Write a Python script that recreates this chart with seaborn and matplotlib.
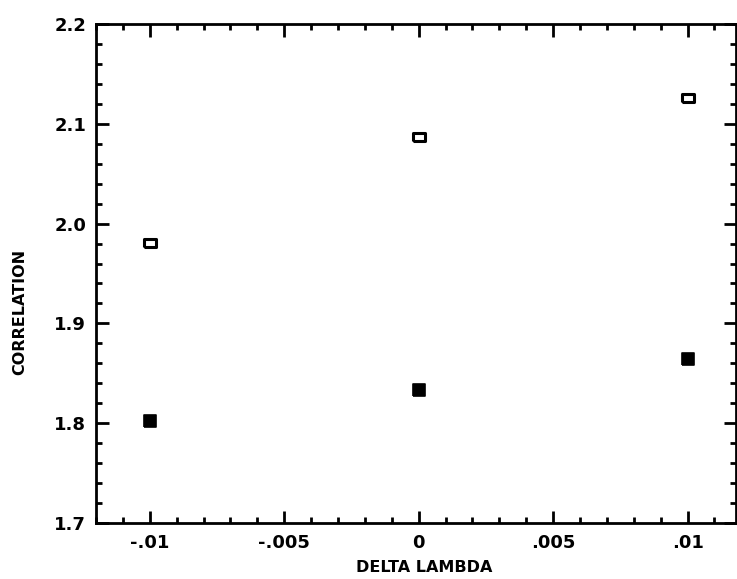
import matplotlib
matplotlib.use("Agg")
import matplotlib.pyplot as plt
import seaborn as sns
import pandas as pd
from matplotlib.ticker import MultipleLocator

# ---- data ----
delta_lambda = [-0.01, 0.0, 0.01]
corr_open = [1.981, 2.087, 2.126]
corr_filled = [1.802, 1.833, 1.864]

x_ticks = [-0.01, -0.005, 0.0, 0.005, 0.01]
x_tick_labels = ["-.01", "-.005", "0", ".005", ".01"]
y_ticks = [1.7, 1.8, 1.9, 2.0, 2.1, 2.2]
y_tick_labels = ["1.7", "1.8", "1.9", "2.0", "2.1", "2.2"]

df_open = pd.DataFrame({"x": delta_lambda, "y": corr_open})
df_filled = pd.DataFrame({"x": delta_lambda, "y": corr_filled})

sns.set_style("ticks")
plt.rcParams["font.family"] = ["DejaVu Sans"]

fig = plt.figure(figsize=(7.37, 5.79), dpi=100)
ax = fig.add_axes([96 / 737, (579 - 523) / 579, 640 / 737, 499 / 579])

rect_open = [(-1, -0.7), (1, -0.7), (1, 0.7), (-1, 0.7), (-1, -0.7)]
rect_filled = [(-1, -0.9), (1, -0.9), (1, 0.9), (-1, 0.9), (-1, -0.9)]

sns.scatterplot(data=df_open, x="x", y="y", ax=ax, marker=rect_open, s=80,
                facecolor="white", edgecolor="black", linewidth=2.2, zorder=3)
sns.scatterplot(data=df_filled, x="x", y="y", ax=ax, marker=rect_filled, s=85,
                color="black", edgecolor="black", linewidth=1.2, zorder=3)

ax.set_xlim(-0.012, 0.0118)
ax.set_ylim(1.7, 2.2)

ax.set_xticks(x_ticks)
ax.set_xticklabels(x_tick_labels, fontweight="bold")
ax.xaxis.set_minor_locator(MultipleLocator(0.001))
ax.set_yticks(y_ticks)
ax.set_yticklabels(y_tick_labels, fontweight="bold")
ax.yaxis.set_minor_locator(MultipleLocator(0.02))

ax.tick_params(which="both", direction="in", top=True, right=True,
               width=2.0, color="black", labelsize=13, labelcolor="black")
ax.tick_params(which="major", length=9)
ax.tick_params(which="minor", length=4.5)
ax.tick_params(axis="y", which="major", pad=7)
ax.tick_params(axis="x", which="major", pad=8)

for sp in ax.spines.values():
    sp.set_visible(True)
    sp.set_linewidth(2.0)
    sp.set_color("black")

ax.set_xlabel("DELTA LAMBDA", fontsize=11.5, fontweight="bold", color="black")
ax.set_ylabel("CORRELATION", fontsize=11.5, fontweight="bold", color="black")
ax.xaxis.set_label_coords((424 - 96) / 640, (523 - 560) / 499)
ax.yaxis.set_label_coords((27 - 96) / 640, (523 - 312) / 499)

fig.savefig("out.png", dpi=100, facecolor="white")
